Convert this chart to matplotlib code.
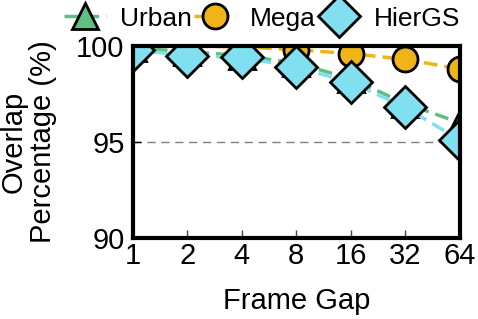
import matplotlib
matplotlib.use("Agg")
from matplotlib import pyplot as plt
import numpy as np

plt.rcParams['font.family'] = ['Liberation Sans', 'DejaVu Sans']

frame_gaps = ['1', '2', '4', '8', '16', '32', '64']
urban = [99.9, 99.7, 99.5, 99.1, 98.3, 97.0, 96.0]
mega = [100.0, 100.0, 99.95, 99.8, 99.6, 99.3, 98.8]
hiergs = [99.8, 99.5, 99.4, 98.9, 98.1, 96.8, 95.1]

x = np.arange(len(frame_gaps))

fig = plt.figure(figsize=(4.78, 3.19), dpi=100)
ax = fig.add_axes([0.278, 0.254, 0.684, 0.602])

ax.plot(x, urban, linestyle=(0, (4, 2)), color='#5fbf7f', lw=2.5,
        marker='^', markersize=19, markerfacecolor='#5fbf7f',
        markeredgecolor='black', markeredgewidth=2, label='Urban')
ax.plot(x, mega, linestyle=(0, (4, 2)), color='#f0b419', lw=2.5,
        marker='o', markersize=18, markerfacecolor='#f0b419',
        markeredgecolor='black', markeredgewidth=2, label='Mega')
ax.plot(x, hiergs, linestyle=(0, (4, 2)), color='#80e0f0', lw=2.5,
        marker='D', markersize=21, markerfacecolor='#80e0f0',
        markeredgecolor='black', markeredgewidth=2, label='HierGS')

ax.axhline(95, color='gray', lw=1, linestyle=(0, (6, 4)), zorder=0)

ax.set_xlim(0, 6)
ax.set_ylim(90, 100)
ax.set_xticks(x)
ax.set_xticklabels(frame_gaps)
ax.set_yticks([90, 95, 100])

ax.tick_params(axis='both', direction='in', labelsize=21, length=6, width=1)
ax.tick_params(axis='x', colors='#444444', labelcolor='black', pad=3)
ax.tick_params(axis='y', pad=6)
for s in ax.spines.values():
    s.set_linewidth(3)

ax.set_xlabel('Frame Gap', fontsize=21, labelpad=12)
ax.set_ylabel('Overlap\nPercentage (%)', fontsize=21, labelpad=14, linespacing=1.05)

ax.legend(loc='lower center', bbox_to_anchor=(0.395, 1.08), ncol=3, frameon=False,
          fontsize=19, handlelength=1.6, handletextpad=0.5, columnspacing=0.1,
          borderaxespad=0.0, borderpad=0.0)

plt.savefig('out.png', dpi=100)
